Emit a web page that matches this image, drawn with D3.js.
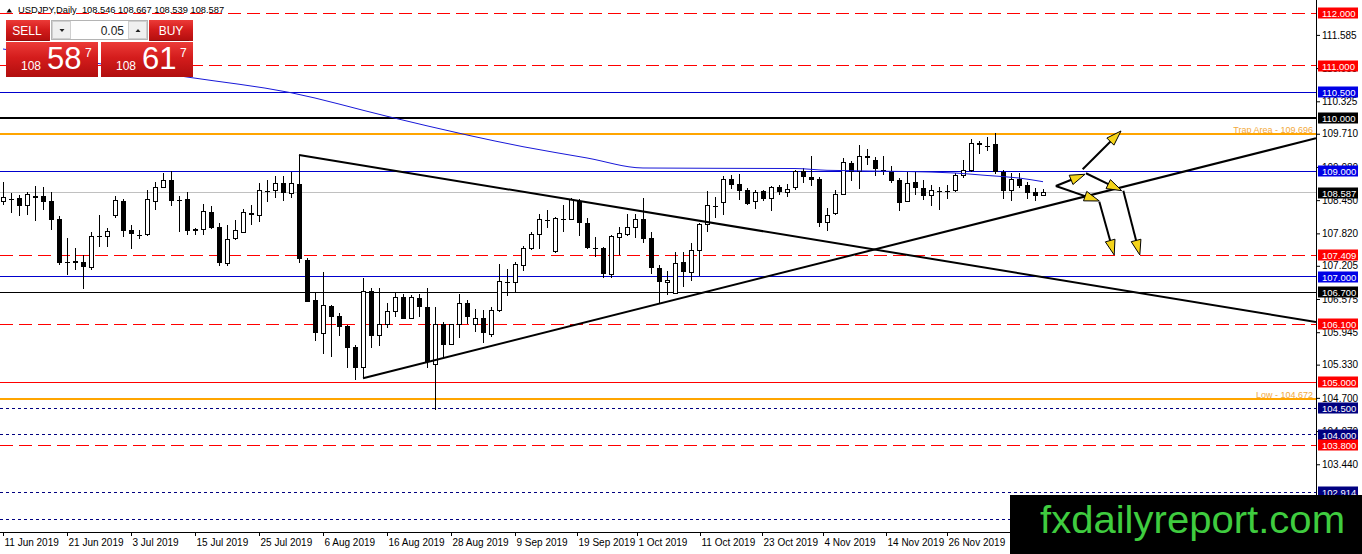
<!DOCTYPE html>
<html>
<head>
<meta charset="utf-8">
<script src="https://cdn.jsdelivr.net/npm/d3@7"></script>
<style>
  body { margin: 0; background: #fff; }
  svg { display: block; font-family: 'Liberation Sans', Arial, sans-serif; }
</style>
</head>
<body>
<div id="chart"></div>
<script>
const width = 1362;
const height = 554;
const plot = {left: 0, right: 1316, top: 0, bottom: 532};

// Chart title and trade panel texts
const title = 'USDJPY,Daily  108.546 108.667 108.539 108.587';
const bidParts = ['108', '58', '7'];
const askParts = ['108', '61', '7'];
const lotSize = '0.05';
const watermark = 'fxdailyreport.com';

// Daily candles [open, high, low, close], first bar = 11 Jun 2019
const candles = [
  [108.415,108.794,108.358,108.491],[108.491,108.586,108.206,108.472],[108.485,108.548,108.155,108.345],
  [108.345,108.610,108.168,108.548],[108.529,108.719,108.060,108.497],[108.529,108.700,108.263,108.421],
  [108.434,108.610,107.884,108.074],[108.093,108.150,107.220,107.258],[107.302,107.733,107.031,107.283],
  [107.296,107.543,107.126,107.264],[107.277,107.410,106.765,107.182],[107.177,107.852,107.126,107.757],
  [107.752,108.168,107.568,107.770],[107.757,107.922,107.556,107.846],[108.163,108.529,108.106,108.434],
  [108.440,108.472,107.757,107.871],[107.884,107.979,107.524,107.803],[107.808,107.884,107.714,107.789],
  [107.789,108.643,107.770,108.453],[108.421,108.800,108.263,108.694],[108.694,108.971,108.675,108.819],
  [108.833,109.009,108.339,108.440],[108.472,108.529,107.852,108.453],[108.472,108.599,107.789,107.871],
  [107.903,107.922,107.789,107.871],[107.884,108.377,107.789,108.231],[108.231,108.339,107.897,107.916],
  [107.935,108.023,107.201,107.252],[107.252,107.979,107.201,107.695],[107.727,108.074,107.695,107.865],
  [107.833,108.277,107.822,108.212],[108.212,108.358,107.979,108.163],[108.163,108.770,108.041,108.624],
  [108.643,108.833,108.421,108.624],[108.630,108.908,108.491,108.770],[108.770,108.908,108.440,108.592],
  [108.580,108.990,108.491,108.757],[108.757,109.306,107.258,107.334],[107.315,107.353,106.509,106.524],
  [106.556,106.684,105.779,105.925],[105.925,107.082,105.526,106.461],[106.442,106.461,105.481,106.239],
  [106.252,106.303,105.880,106.049],[106.068,106.082,105.261,105.652],[105.671,105.703,105.039,105.272],
  [105.272,106.979,105.071,106.713],[106.727,106.778,105.652,105.880],[105.880,106.778,105.690,106.096],
  [106.096,106.494,106.020,106.335],[106.335,106.713,106.239,106.608],[106.608,106.665,106.190,106.195],
  [106.208,106.651,106.190,106.600],[106.600,106.665,106.239,106.417],[106.429,106.778,105.261,105.375],
  [105.337,106.429,104.470,106.096],[106.096,106.141,105.451,105.703],[105.716,106.100,105.703,106.096],
  [106.096,106.665,105.830,106.494],[106.494,106.556,106.096,106.239],[106.096,106.385,105.944,106.208],
  [106.208,106.366,105.735,105.925],[105.906,106.429,105.860,106.366],[106.366,107.234,106.322,106.916],
  [106.916,107.145,106.632,106.897],[106.890,107.283,106.713,107.220],[107.206,107.587,107.107,107.537],
  [107.524,107.852,107.505,107.803],[107.803,108.182,107.524,108.087],[108.093,108.269,107.916,108.079],
  [107.467,108.136,107.448,108.106],[108.106,108.358,107.852,108.087],[108.087,108.485,108.074,108.453],
  [108.434,108.472,107.776,108.011],[108.011,108.106,107.524,107.537],[107.562,107.757,107.378,107.543],
  [107.549,107.568,106.968,107.044],[107.044,107.789,106.980,107.757],[107.746,107.941,107.410,107.822],
  [107.803,108.182,107.776,107.928],[107.928,108.182,107.738,108.074],[108.087,108.485,107.632,107.714],
  [107.738,107.852,107.044,107.158],[107.169,107.220,106.494,106.890],[106.890,107.107,106.651,106.928],
  [106.683,107.473,106.665,107.252],[107.271,107.473,106.808,107.093],[107.082,107.632,106.916,107.486],
  [107.486,108.011,107.011,107.979],[107.979,108.624,107.852,108.358],[108.358,108.519,108.111,108.345],
  [108.396,108.902,108.163,108.851],[108.851,108.933,108.668,108.743],[108.757,108.946,108.459,108.630],
  [108.649,108.681,108.364,108.377],[108.428,108.649,108.288,108.599],[108.630,108.649,108.440,108.478],
  [108.478,108.713,108.250,108.694],[108.694,108.744,108.554,108.599],[108.599,108.757,108.504,108.649],
  [108.694,109.028,108.649,108.997],[108.997,109.060,108.776,108.884],[108.884,109.282,108.713,108.838],
  [108.857,108.884,107.935,108.017],[108.017,108.301,107.871,108.163],[108.188,108.649,108.163,108.554],
  [108.554,109.250,108.542,109.155],[109.155,109.187,108.807,108.984],[108.984,109.490,108.668,109.282],
  [109.282,109.426,109.111,109.250],[109.218,109.263,108.902,109.047],[109.047,109.282,108.933,109.028],
  [109.003,109.092,108.776,108.813],[108.833,108.870,108.235,108.396],[108.421,108.990,108.409,108.770],
  [108.789,108.978,108.548,108.675],[108.686,108.833,108.453,108.535],[108.535,108.738,108.345,108.624],
  [108.637,108.706,108.263,108.618],[108.643,108.738,108.472,108.630],[108.630,108.959,108.611,108.915],
  [108.915,109.212,108.876,109.003],[109.003,109.610,108.990,109.528],[109.540,109.572,109.320,109.496],
  [109.496,109.654,109.382,109.477],[109.509,109.718,108.940,108.978],[108.978,109.022,108.472,108.624],
  [108.624,108.959,108.434,108.851],[108.851,108.959,108.687,108.724],[108.738,108.800,108.472,108.580],
  [108.599,108.674,108.434,108.535],[108.546,108.667,108.539,108.587]
];

// Moving average read at a few bars
const maBars = [0, 23, 36, 48, 58, 65, 73, 80, 89, 99, 103, 113, 119, 123, 127, 130];
const maValues = [111.317, 110.786, 110.488, 110.041, 109.686, 109.464, 109.250, 109.060,
                  109.054, 109.050, 109.016, 108.993, 108.965, 108.918, 108.870, 108.800];

// Horizontal levels
const levelPrices = [112.000, 111.000, 110.500, 110.000, 109.696, 109.000, 108.587, 107.409, 107.000,
                     106.700, 106.100, 105.000, 104.672, 104.500, 104.000, 103.800, 102.914, 102.400];
const levelKinds = ['redDash', 'redDash', 'blue', 'blackThick', 'orange', 'blue', 'price', 'redDash', 'blue',
                    'black', 'redDash', 'red', 'orange', 'navyDot', 'navyDot', 'redDash', 'navyDot', 'navyDot'];
const levelNotes = [
  {price: 109.696, text: 'Trap Area - 109.696'},
  {price: 104.672, text: 'Low - 104.672'}
];

// Trend lines [bar1, price1, bar2, price2]
const trendLines = [
  [37, 109.306, 164.125, 106.139],
  [45, 105.071, 164.125, 109.623]
];

// Scenario arrows [bar1, price1, bar2, price2]
const arrows = [
  [134.96, 109.035, 139.75, 109.762],
  [131.6, 108.718, 135.25, 108.941],
  [131.6, 108.718, 137.04, 108.434],
  [135.37, 108.960, 139.84, 108.630],
  [137.04, 108.421, 138.9, 107.410],
  [140.04, 108.630, 142.1, 107.410]
];

// Axis ticks
const yTicks = [111.585, 110.955, 110.325, 109.710, 109.080, 108.450, 107.820, 107.205,
                106.575, 105.945, 105.330, 104.700, 104.070, 103.440, 102.810];
const xTickBars = [0, 8, 16, 24, 32, 40, 48, 56, 64, 71.75, 79.25, 87.125, 94.875, 102.5, 110.375, 118];
const xTickLabels = ['11 Jun 2019', '21 Jun 2019', '3 Jul 2019', '15 Jul 2019', '25 Jul 2019', '6 Aug 2019',
                     '16 Aug 2019', '28 Aug 2019', '9 Sep 2019', '19 Sep 2019', '1 Oct 2019', '11 Oct 2019',
                     '23 Oct 2019', '4 Nov 2019', '14 Nov 2019', '26 Nov 2019'];

const levelStyle = {
  redDash:    {stroke: '#ff0000', w: 1, dash: '13,6', box: '#ff0000'},
  red:        {stroke: '#ff0000', w: 1, dash: null,   box: '#ff0000'},
  blue:       {stroke: '#0000cd', w: 1, dash: null,   box: '#0000e6'},
  blackThick: {stroke: '#000000', w: 2, dash: null,   box: '#000000'},
  black:      {stroke: '#000000', w: 1, dash: null,   box: '#000000'},
  price:      {stroke: '#c0c0c0', w: 1, dash: null,   box: '#000000'},
  orange:     {stroke: '#ffa500', w: 2, dash: null,   box: null},
  navyDot:    {stroke: '#000080', w: 1, dash: '3,3',  box: '#000080'}
};

// Scales
const x = d3.scaleLinear().domain([0, 130]).range([3, 1043]);
const y = d3.scaleLinear().domain([112, 102.914]).range([13, 492]);
const crisp = (v, w) => w % 2 ? Math.round(v - 0.5) + 0.5 : Math.round(v);

const svg = d3.select('#chart')
  .append('svg')
    .attr('width', width)
    .attr('height', height)
    .attr('viewBox', [0, 0, width, height]);

const defs = svg.append('defs');
defs.append('clipPath')
    .attr('id', 'plotClip')
  .append('rect')
    .attr('x', plot.left)
    .attr('y', plot.top)
    .attr('width', plot.right - plot.left)
    .attr('height', plot.bottom - plot.top);
const grad = defs.append('linearGradient')
    .attr('id', 'redGrad')
    .attr('x1', 0).attr('y1', 0).attr('x2', 0).attr('y2', 1);
grad.append('stop').attr('offset', '0%').attr('stop-color', '#ec3b38');
grad.append('stop').attr('offset', '45%').attr('stop-color', '#d41c1c');
grad.append('stop').attr('offset', '100%').attr('stop-color', '#b10e0e');

const chart = svg.append('g').attr('clip-path', 'url(#plotClip)');

// Horizontal levels (background objects)
const levels = levelPrices.map((p, i) => ({price: p, kind: levelKinds[i]}));
chart.append('g')
    .attr('class', 'levels')
  .selectAll('line')
  .data(levels)
  .join('line')
    .attr('x1', plot.left)
    .attr('x2', plot.right)
    .attr('y1', d => crisp(y(d.price), levelStyle[d.kind].w))
    .attr('y2', d => crisp(y(d.price), levelStyle[d.kind].w))
    .attr('stroke', d => levelStyle[d.kind].stroke)
    .attr('stroke-width', d => levelStyle[d.kind].w)
    .attr('stroke-dasharray', d => levelStyle[d.kind].dash);

chart.append('g')
    .attr('class', 'level-notes')
  .selectAll('text')
  .data(levelNotes)
  .join('text')
    .attr('x', plot.right - 3)
    .attr('y', d => y(d.price) - 1.8)
    .attr('text-anchor', 'end')
    .attr('font-size', 9)
    .attr('fill', '#f2a93b')
    .text(d => d.text);

// Candles
const bars = candles.map((c, i) => ({i, o: c[0], h: c[1], l: c[2], c: c[3]}));
const candleG = chart.append('g')
    .attr('class', 'candles')
    .attr('shape-rendering', 'crispEdges')
  .selectAll('g')
  .data(bars)
  .join('g');

candleG.append('line')
    .attr('x1', d => x(d.i) + 0.5)
    .attr('x2', d => x(d.i) + 0.5)
    .attr('y1', d => y(d.h))
    .attr('y2', d => y(d.l))
    .attr('stroke', '#000');

candleG.each(function(d) {
  const g = d3.select(this);
  const cx = x(d.i);
  const yo = y(d.o), yc = y(d.c);
  const h = Math.abs(yo - yc);
  if (h < 1.2) {
    g.append('line')
        .attr('x1', cx - 2).attr('x2', cx + 3)
        .attr('y1', Math.round(yc) + 0.5).attr('y2', Math.round(yc) + 0.5)
        .attr('stroke', '#000');
  } else if (d.c >= d.o) {
    g.append('rect')
        .attr('x', cx - 1.5).attr('width', 4)
        .attr('y', yc).attr('height', h)
        .attr('fill', '#fff')
        .attr('stroke', '#000');
  } else {
    g.append('rect')
        .attr('x', cx - 2).attr('width', 5)
        .attr('y', yo).attr('height', h)
        .attr('fill', '#000');
  }
});

// Moving average
const maLine = d3.line()
    .x(d => x(d[0]))
    .y(d => y(d[1]))
    .curve(d3.curveMonotoneX);
chart.append('path')
    .attr('d', maLine(maBars.map((b, i) => [b, maValues[i]])))
    .attr('fill', 'none')
    .attr('stroke', '#1818d8')
    .attr('stroke-width', 1);

// Trend lines
chart.append('g')
    .attr('class', 'trend-lines')
  .selectAll('line')
  .data(trendLines)
  .join('line')
    .attr('x1', d => x(d[0]))
    .attr('y1', d => y(d[1]))
    .attr('x2', d => x(d[2]))
    .attr('y2', d => y(d[3]))
    .attr('stroke', '#000')
    .attr('stroke-width', 2);

// Arrows
const arrowG = chart.append('g').attr('class', 'arrows');
arrows.forEach(a => {
  const x1 = x(a[0]), y1 = y(a[1]), x2 = x(a[2]), y2 = y(a[3]);
  const len = Math.hypot(x2 - x1, y2 - y1);
  const ux = (x2 - x1) / len, uy = (y2 - y1) / len;
  const headL = 15, headW = 5;
  const bx = x2 - ux * headL, by = y2 - uy * headL;
  arrowG.append('line')
      .attr('x1', x1).attr('y1', y1)
      .attr('x2', bx + ux * 3).attr('y2', by + uy * 3)
      .attr('stroke', '#000')
      .attr('stroke-width', 2);
  arrowG.append('path')
      .attr('d', `M${x2},${y2}L${bx - uy * headW},${by + ux * headW}L${bx + uy * headW},${by - ux * headW}Z`)
      .attr('fill', '#f4d41a')
      .attr('stroke', '#000')
      .attr('stroke-width', 1);
});

// Price axis
svg.append('line')
    .attr('x1', plot.right + 0.5).attr('x2', plot.right + 0.5)
    .attr('y1', 0).attr('y2', plot.bottom + 0.5)
    .attr('stroke', '#000');
const yAxis = d3.axisRight(y)
    .tickValues(yTicks)
    .tickFormat(d3.format('.3f'))
    .tickSize(4)
    .tickPadding(2);
svg.append('g')
    .attr('transform', `translate(${plot.right},0)`)
    .attr('font-family', "'Liberation Sans', Arial, sans-serif")
    .attr('font-size', 9.5)
    .call(yAxis)
    .call(g => g.select('.domain').remove());

// Level price labels
const labelled = levels.filter(d => levelStyle[d.kind].box);
const labelG = svg.append('g')
    .attr('class', 'level-labels')
  .selectAll('g')
  .data(labelled)
  .join('g')
    .attr('transform', d => `translate(${plot.right + 2},${Math.round(y(d.price))})`);
labelG.append('rect')
    .attr('x', 0).attr('y', -5.5)
    .attr('width', 40).attr('height', 11)
    .attr('fill', d => levelStyle[d.kind].box);
labelG.append('text')
    .attr('x', 4).attr('y', 3.6)
    .attr('font-size', 9.5)
    .attr('fill', '#fff')
    .text(d => d.price.toFixed(3));

// Time axis
svg.append('line')
    .attr('x1', plot.left).attr('x2', plot.right + 0.5)
    .attr('y1', plot.bottom + 0.5).attr('y2', plot.bottom + 0.5)
    .attr('stroke', '#000');
const xAxis = d3.axisBottom(x)
    .tickValues(xTickBars)
    .tickFormat((d, i) => xTickLabels[i])
    .tickSize(4);
svg.append('g')
    .attr('transform', `translate(0,${plot.bottom})`)
    .attr('font-family', "'Liberation Sans', Arial, sans-serif")
    .attr('font-size', 9.5)
    .call(xAxis)
    .call(g => g.select('.domain').remove())
    .call(g => g.selectAll('.tick text')
      .attr('text-anchor', 'start')
      .attr('x', 1)
      .attr('y', 14)
      .attr('dy', 0));

// Title
svg.append('path')
    .attr('d', 'M6.5,12.5L12,12.5L9.25,8.5Z')
    .attr('fill', '#000');
svg.append('text')
    .attr('x', 18)
    .attr('y', 13)
    .attr('font-size', 9.3)
    .attr('fill', '#000')
    .attr('xml:space', 'preserve')
    .style('white-space', 'pre')
    .text(title);

// Trade panel
const panel = svg.append('g').attr('class', 'trade-panel');
panel.append('rect').attr('x', 6).attr('y', 20).attr('width', 44).attr('height', 21).attr('fill', 'url(#redGrad)');
panel.append('rect').attr('x', 149).attr('y', 20).attr('width', 44).attr('height', 21).attr('fill', 'url(#redGrad)');
panel.append('rect').attr('x', 51.5).attr('y', 20.5).attr('width', 96).attr('height', 19)
    .attr('fill', '#fff').attr('stroke', '#b4b4b4');
panel.append('rect').attr('x', 52.5).attr('y', 21.5).attr('width', 18).attr('height', 17)
    .attr('fill', '#efefef').attr('stroke', '#cfcfcf');
panel.append('rect').attr('x', 128.5).attr('y', 21.5).attr('width', 18).attr('height', 17)
    .attr('fill', '#efefef').attr('stroke', '#cfcfcf');
panel.append('path').attr('d', 'M59.5,29L64.5,29L62,32Z').attr('fill', '#222');
panel.append('path').attr('d', 'M135.5,32L140.5,32L138,29Z').attr('fill', '#222');
panel.append('text').attr('x', 124).attr('y', 35).attr('text-anchor', 'end')
    .attr('font-size', 12).attr('fill', '#222').text(lotSize);
panel.append('text').attr('x', 27).attr('y', 35).attr('text-anchor', 'middle')
    .attr('font-size', 12).attr('fill', '#fff').text('SELL');
panel.append('text').attr('x', 171).attr('y', 35).attr('text-anchor', 'middle')
    .attr('font-size', 12).attr('fill', '#fff').text('BUY');
panel.append('line').attr('x1', 10).attr('x2', 49).attr('y1', 40.5).attr('y2', 40.5).attr('stroke', '#8e0a0a');
panel.append('line').attr('x1', 150).attr('x2', 189).attr('y1', 40.5).attr('y2', 40.5).attr('stroke', '#8e0a0a');

[[6, bidParts], [101, askParts]].forEach(([bx, parts]) => {
  panel.append('rect').attr('x', bx).attr('y', 42).attr('width', 92).attr('height', 35).attr('fill', 'url(#redGrad)');
  panel.append('text').attr('x', bx + 15).attr('y', 70).attr('font-size', 12).attr('fill', '#fff').text(parts[0]);
  panel.append('text').attr('x', bx + 41).attr('y', 68.5).attr('font-size', 31).attr('fill', '#fff').text(parts[1]);
  panel.append('text').attr('x', bx + 79).attr('y', 57).attr('font-size', 12).attr('fill', '#fff').text(parts[2]);
});

// Watermark
svg.append('rect')
    .attr('x', 1010).attr('y', 495)
    .attr('width', width - 1010).attr('height', height - 495)
    .attr('fill', '#000');
svg.append('text')
    .attr('x', 1040)
    .attr('y', 533)
    .attr('font-size', 38)
    .attr('fill', '#3fcc3f')
    .attr('textLength', 305)
    .attr('lengthAdjust', 'spacingAndGlyphs')
    .text(watermark);
</script>
</body>
</html>
